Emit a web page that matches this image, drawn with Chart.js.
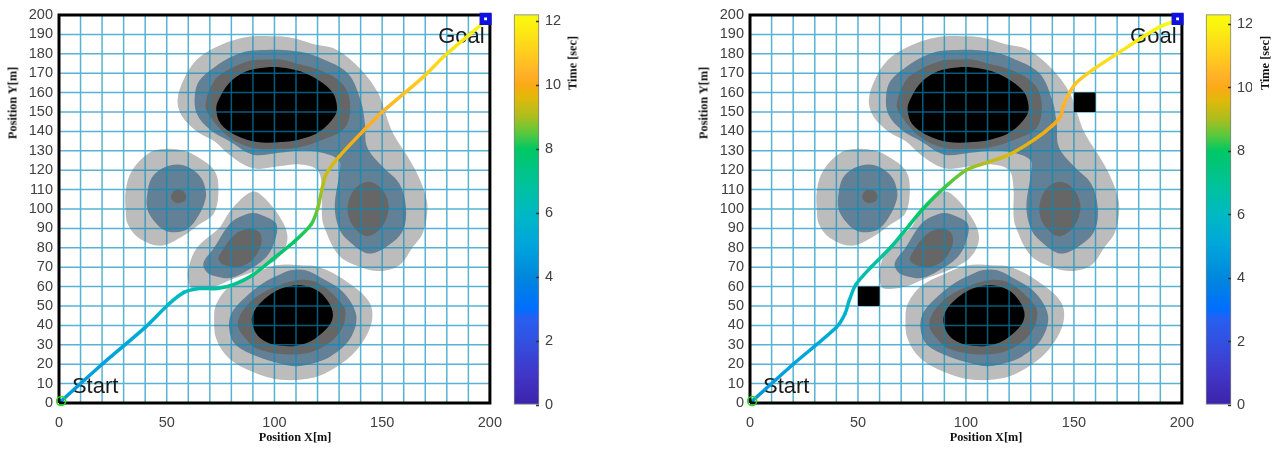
<!DOCTYPE html>
<html>
<head>
<meta charset="utf-8">
<title>Path over threat map</title>
<script src="https://cdn.jsdelivr.net/npm/chart.js@4/dist/chart.umd.min.js"></script>
<style>
    html, body { margin: 0; background: #fff; }
    #page { position: relative; width: 1288px; height: 450px; overflow: hidden; filter: blur(0.35px); }
    canvas { position: absolute; top: 0; }
    .axis-title {
        position: absolute;
        font: bold 12.3px "Liberation Serif", serif;
        color: #111;
        white-space: nowrap;
        transform: translate(-50%, -50%);
    }
    .axis-title.vertical { transform: translate(-50%, -50%) rotate(-90deg); }
</style>
</head>
<body>
<div id="page">
    <canvas id="left-map" width="513" height="450" style="left:0"></canvas>
    <canvas id="left-bar" width="90" height="453" style="left:510px;top:-3px"></canvas>
    <canvas id="right-map" width="514" height="450" style="left:691px"></canvas>
    <canvas id="right-bar" width="50" height="453" style="left:1202px;top:-3px"></canvas>

    <div class="axis-title" style="left:295px;top:437px">Position X[m]</div>
    <div class="axis-title vertical" style="left:13px;top:103px">Position Y[m]</div>
    <div class="axis-title vertical" style="left:573px;top:63px">Time [sec]</div>
    <div class="axis-title" style="left:986px;top:437px">Position X[m]</div>
    <div class="axis-title vertical" style="left:704px;top:103px">Position Y[m]</div>
    <div class="axis-title vertical" style="left:1265px;top:63px">Time [sec]</div>
</div>

<script>
// Contours in metres. Each ring is [x, y].
const lightNorth = [[90,189],[81,187],[72,183],[64,177],[58,167],[55,156],[57,148],[64,140],[72,135],[79,128],[90,121],[102,122],[112,123],[120,120],[122,111],[122,98],[123,91],[130,76],[140,70],[149,68],[158,71],[164,80],[169,88],[171,101],[169,111],[164,123],[155,139],[151,151],[148,160],[140,172],[129,182],[118,185],[109,188],[102,189]];
const lightWest = [[50,131],[42,129],[34,120],[31,110],[31,98],[32,92],[37,85],[47,81],[56,85],[65,92],[72,98],[74,111],[72,120],[64,127],[58,130]];
const lightMiddle = [[90,109],[81,101],[75,91],[64,80],[60,69],[60,63],[62,59],[72,60],[81,64],[93,69],[102,75],[106,84],[104,93],[96,105]];
const lightSouth = [[72,44],[73,51],[79,60],[89,66],[101,71],[112,71],[121,70],[133,63],[144,52],[145,41],[138,27],[128,18],[118,13],[103,12],[90,16],[79,23],[73,33]];

const steelNorth = [[96,182],[88,181.5],[81,179],[72,173],[65,166],[63,158],[64,149],[70,141],[79,135],[90,128],[102,129],[112,130],[122,129],[130,125],[130,118],[128,101],[130,90],[134,84],[144,77],[155,83],[160,90],[161,101],[158,113],[150,122],[143,132],[142,144],[140,156],[134,170],[121,178],[112,181],[104,182]];
const steelWest = [[55,123],[48,121],[43,116],[41,108],[41,100],[44,94],[49,89],[54,88],[60,90],[65,97],[68,105],[68,110],[66,116],[61,121]];
const steelMiddle = [[90,98],[84,96],[79,92],[72,80],[67,72],[69,67],[74,65],[80,64.5],[87,68],[96,75],[100,83],[101,92],[96,96]];
const steelSouth = [[79,38],[80,46],[86,54],[95,62],[102,66],[108,68.5],[114,68.5],[121,65],[132,57],[138,45],[135,33],[126,24],[118,20.5],[110,19],[102,20.5],[92,24],[82,30]];

const darkNorth = [[96,177],[89,176.5],[79,172],[72,166],[68,154],[70,148],[79,137],[90,131.5],[103,131],[112,132],[123,136],[132,141],[135,149],[134,160],[129,167],[120,172],[110,175],[103,177]];
const darkWest = [[55,110],[53,109],[52,106],[53,104],[55,103],[58,104],[59,106],[58,109]];
const darkMiddle = [[89,90],[84,88.5],[80,85],[75.5,78],[74,74],[77,71],[83,70],[89,73],[92,77],[94,83],[93,88]];
const darkEast = [[143.5,114],[137,110],[134,101],[136,92],[143,86],[150,91],[153,101],[150,110]];
const darkSouth = [[83,40],[85,47],[92,55],[103,61],[112,63.5],[120,62],[129,54],[133,47],[130,36],[119,27],[107,25],[92,28],[86,34]];

const blackNorth = [[96,173],[87,171],[79,165],[74,156],[73,151],[75,144],[82,138],[92,134.5],[103,134.5],[112,136],[121,140],[128,148],[129,153],[127,160],[121,166],[112,171],[103,173]];
const blackSouth = [[89.5,42],[90.5,47],[93,51],[97,55],[102,58.5],[108,60.5],[114,60.5],[120,58],[124.5,53],[127,47],[126.5,42],[123,37],[117,32],[110,29.5],[103,29.5],[97,31],[92,35]];

// Single cell obstacles on the right map
const blockA = [[50,50],[60,50],[60,60],[50,60]];
const blockB = [[150,150],[160,150],[160,160],[150,160]];

// Flight paths and the time shown by their colour
const leftPath = [[1,1],[20,20],[40,39],[51,51],[58,57],[65,59],[73,59],[81,61],[90,66],[99,74],[109,83],[117,92],[120,100],[122,110],[124,118],[130,127],[141,140],[150,150],[169,168],[179,179],[197,196]];
const leftTimes = [4.5,4.9,5.3,5.9,6.2,6.5,6.8,7.1,7.5,7.8,8,8.3,8.7,9,9.3,9.7,10.1,10.4,11,11.4,12];
const rightPath = [[1,1],[20,20],[40,39],[44,46],[46,53],[49,61],[56,70],[65,80],[74,92],[80,100],[90,111],[100,120],[110,124],[120,128],[132,136],[140,143],[144,148],[145,153],[148,160],[151,165],[159,172],[170,180],[181,188],[190,194],[197,197]];
const rightTimes = [4.5,4.9,5.3,5.6,5.9,6.2,6.6,7,7.6,8,8.3,8.8,9.2,9.5,9.8,10,10.2,10.4,10.6,10.8,11.2,11.5,11.8,12.1,12.3];

// Axis values
const gridValues = [10,20,30,40,50,60,70,80,90,100,110,120,130,140,150,160,170,180,190];
const startPoint = [1, 1];
const goalPoint = [198, 198];
const startLabelAt = [6, 5];
const goalLabelAt = [176, 185.5];

// Colour bar
const barStops = [0,1,2,2.7,3,4,5,6,7,8,8.5,9,9.6,10,10.3,11,12,12.3];
const barColors = [[60,35,170],[65,55,200],[50,80,225],[40,95,240],[0,110,255],[0,135,220],[0,165,220],[0,185,195],[0,195,150],[0,200,100],[90,200,60],[170,190,30],[225,185,10],[250,170,20],[255,175,40],[255,205,30],[250,245,15],[250,250,10]];
const leftBarMax = 12.2;
const rightBarMax = 12.3;

function colorAt(time) {
    let i = 0;
    while (i < barStops.length - 2 && time > barStops[i + 1]) i++;
    const t = Math.min(1, Math.max(0, (time - barStops[i]) / (barStops[i + 1] - barStops[i])));
    const c = barColors[i].map((v, k) => Math.round(v + (barColors[i + 1][k] - v) * t));
    return `rgb(${c[0]}, ${c[1]}, ${c[2]})`;
}

function toPoints(pairs) {
    return pairs.map(p => ({ x: p[0], y: p[1] }));
}

function ring(pairs, color, smooth) {
    // go a little past the start so the bezier has no cusp where the ring closes
    const closing = smooth ? pairs.slice(0, 3) : pairs.slice(0, 1);
    return {
        data: toPoints(pairs.concat(closing)),
        showLine: true,
        fill: 'shape',
        backgroundColor: color,
        borderColor: color,
        borderWidth: 0,
        pointRadius: 0,
        tension: smooth ? 0.35 : 0
    };
}

function gridDataset() {
    const points = [];
    gridValues.forEach(v => {
        points.push({ x: v, y: 0 }, { x: v, y: 200 }, { x: NaN, y: NaN });
        points.push({ x: 0, y: v }, { x: 200, y: v }, { x: NaN, y: NaN });
    });
    return {
        data: points,
        showLine: true,
        borderColor: 'rgba(0, 140, 190, 0.66)',
        borderWidth: 1.5,
        pointRadius: 0
    };
}

function mapDatasets(path, times, blocks) {
    return [
        // first dataset ends up on top
        {
            data: toPoints([startPoint]),
            pointStyle: 'circle',
            pointRadius: 4.5,
            pointBorderWidth: 1.6,
            pointBackgroundColor: 'rgba(0,0,0,0)',
            pointBorderColor: '#22dd22',
            clip: false
        },
        {
            data: toPoints([goalPoint]),
            pointStyle: 'rect',
            pointRadius: 5.3,
            pointBorderWidth: 4.6,
            pointBackgroundColor: '#ffffff',
            pointBorderColor: '#1010e0',
            clip: false
        },
        {
            data: toPoints([[0,0],[0,200],[200,200],[200,0],[0,0]]),
            showLine: true,
            borderColor: '#000',
            borderWidth: 3,
            pointRadius: 0,
            clip: false
        },
        {
            label: 'path',
            data: toPoints(path),
            showLine: true,
            borderWidth: 3.5,
            borderCapStyle: 'round',
            borderJoinStyle: 'round',
            pointRadius: 0,
            tension: 0.3,
            segment: {
                borderColor: ctx => {
                    const g = ctx.chart.ctx.createLinearGradient(ctx.p0.x, ctx.p0.y, ctx.p1.x, ctx.p1.y);
                    g.addColorStop(0, colorAt(times[ctx.p0DataIndex]));
                    g.addColorStop(1, colorAt(times[ctx.p1DataIndex]));
                    return g;
                }
            }
        },
        ...blocks.map(b => ring(b, '#000', false)),
        gridDataset(),
        ring(blackNorth, '#000', true),
        ring(blackSouth, '#000', true),
        ring(darkNorth, '#666666', true),
        ring(darkWest, '#666666', true),
        ring(darkMiddle, '#666666', true),
        ring(darkEast, '#666666', true),
        ring(darkSouth, '#666666', true),
        ring(steelNorth, '#628096', true),
        ring(steelWest, '#628096', true),
        ring(steelMiddle, '#628096', true),
        ring(steelSouth, '#628096', true),
        ring(lightNorth, '#bcbcbc', true),
        ring(lightWest, '#bcbcbc', true),
        ring(lightMiddle, '#bcbcbc', true),
        ring(lightSouth, '#bcbcbc', true)
    ];
}

// Start and Goal sit over the grid but under the path
const placeLabels = {
    id: 'placeLabels',
    beforeDatasetDraw(chart, args) {
        if (chart.data.datasets[args.index].label !== 'path') return;
        const { ctx, scales } = chart;
        ctx.save();
        ctx.font = '22px "Liberation Sans", sans-serif';
        ctx.fillStyle = '#1a1a1a';
        ctx.textAlign = 'left';
        ctx.textBaseline = 'alphabetic';
        ctx.fillText('Start', scales.x.getPixelForValue(startLabelAt[0]), scales.y.getPixelForValue(startLabelAt[1]));
        ctx.fillText('Goal', scales.x.getPixelForValue(goalLabelAt[0]), scales.y.getPixelForValue(goalLabelAt[1]));
        ctx.restore();
    }
};

function drawMap(id, path, times, blocks, rightPad) {
    new Chart(document.getElementById(id), {
        type: 'scatter',
        data: { datasets: mapDatasets(path, times, blocks) },
        plugins: [placeLabels],
        options: {
            responsive: false,
            animation: false,
            layout: { padding: { top: 15, right: rightPad, bottom: 0, left: 0 } },
            plugins: { legend: { display: false }, tooltip: { enabled: false } },
            scales: {
                x: {
                    type: 'linear',
                    min: 0,
                    max: 200,
                    afterFit: scale => { scale.height = 47; },
                    grid: { display: false, drawTicks: false },
                    border: { display: false },
                    ticks: {
                        stepSize: 50,
                        maxRotation: 0,
                        padding: 11,
                        color: '#404040',
                        font: { family: 'Liberation Sans', size: 14.5 }
                    }
                },
                y: {
                    type: 'linear',
                    min: 0,
                    max: 200,
                    afterFit: scale => { scale.width = 59; },
                    grid: { display: false, drawTicks: false },
                    border: { display: false },
                    ticks: {
                        stepSize: 10,
                        autoSkip: false,
                        padding: 6,
                        color: '#404040',
                        font: { family: 'Liberation Sans', size: 14.5 }
                    }
                }
            }
        }
    });
}

function drawBar(id, top, width) {
    new Chart(document.getElementById(id), {
        type: 'bar',
        data: {
            labels: ['Time'],
            datasets: [{
                data: [[0, top]],
                barPercentage: 1,
                categoryPercentage: 1,
                borderWidth: 1,
                borderColor: '#808080',
                borderSkipped: false,
                clip: false,
                backgroundColor: ctx => {
                    const area = ctx.chart.chartArea;
                    if (!area) return '#000';
                    const g = ctx.chart.ctx.createLinearGradient(0, area.bottom, 0, area.top);
                    barStops.forEach(s => {
                        if (s <= top) g.addColorStop(s / top, colorAt(s));
                    });
                    return g;
                }
            }]
        },
        options: {
            responsive: false,
            animation: false,
            layout: { padding: { top: 8, right: 0, bottom: 45, left: 4 } },
            plugins: { legend: { display: false }, tooltip: { enabled: false } },
            scales: {
                x: { display: false },
                y: {
                    position: 'right',
                    min: 0,
                    max: top,
                    afterFit: scale => { scale.width = width; },
                    grid: { drawOnChartArea: false, tickLength: -3, tickColor: '#333', tickWidth: 1.5, z: 1 },
                    border: { display: false },
                    ticks: {
                        stepSize: 2,
                        includeBounds: false,
                        padding: 9,
                        color: '#404040',
                        font: { family: 'Liberation Sans', size: 14.5 }
                    }
                }
            }
        }
    });
}

drawMap('left-map', leftPath, leftTimes, [], 16);
drawMap('right-map', rightPath, rightTimes, [blockA, blockB], 16);
drawBar('left-bar', leftBarMax, 61);
drawBar('right-bar', rightBarMax, 21);
</script>
</body>
</html>
